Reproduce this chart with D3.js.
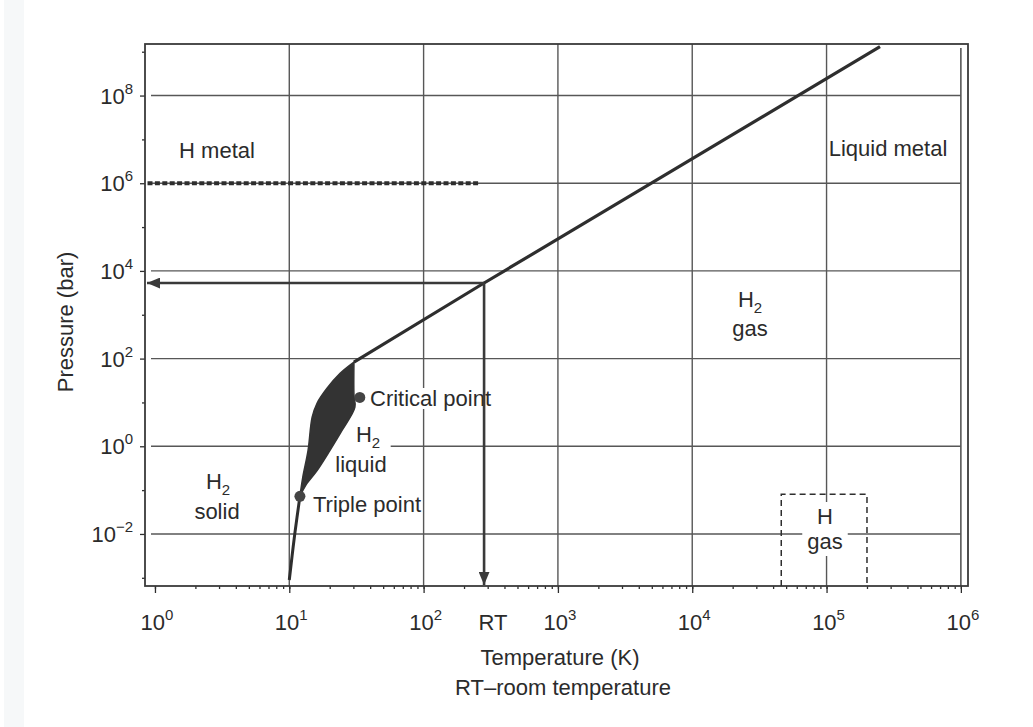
<!DOCTYPE html>
<html>
<head>
<meta charset="utf-8">
<script src="https://cdn.jsdelivr.net/npm/d3@7"></script>
<style>
  body { margin: 0; background: #fff; }
  text { font-family: "Liberation Sans", Arial, sans-serif; fill: #2b2b2b; }
</style>
</head>
<body>
<div id="chart"></div>
<script>
// Hydrogen phase diagram (log T vs log P)
const tRange = [0.843, 1.13e6];
const pRange = [6.5e-4, 1.5e9];
const xTicks = [1, 10, 100, 1000, 1e4, 1e5, 1e6];
const xTickExp = ["0", "1", "2", "3", "4", "5", "6"];
const yTicks = [1e-2, 1, 1e2, 1e4, 1e6, 1e8];
const yTickExp = ["\u22122", "0", "2", "4", "6", "8"];
const yMinorTicks = [1e-3, 1e-1, 1e1, 1e3, 1e5, 1e7, 1e9];

// [T (K), P (bar)]
const sublimationCurve = [[10, 8.9e-4], [10.5, 0.0032], [11, 0.0103], [12, 0.072]];
const meltingCurve = [[12, 0.072], [12.6, 0.196], [13.8, 0.81], [14.8, 4.6], [16.1, 9.6],
  [19.1, 21], [23.9, 46], [30.3, 83]];
const vaporCurve = [[30.3, 83], [30.3, 15], [30.8, 7.8], [24.7, 2.3], [20.1, 0.81],
  [16.1, 0.28], [13.5, 0.14], [12, 0.072]];
const boilingLine = [[30.3, 83], [282, 5300], [2.5e5, 1.3e9]];
const triplePoint = [12, 0.072];
const criticalPoint = [33.5, 13];
const roomTemp = [282, 5300];
const metalLine = [[0.88, 1e6], [265, 1e6]];
const hGasBox = [[4.6e4, 6.5e-4], [4.6e4, 0.08], [2.0e5, 0.08], [2.0e5, 6.5e-4]];

const margin = { top: 44, right: 65, bottom: 141, left: 145 };
const W = 1033, H = 727;
const width = W - margin.left - margin.right;
const height = H - margin.top - margin.bottom;

const svg = d3.select("#chart").append("svg")
  .attr("width", W).attr("height", H);

// faint scan edge on the left
svg.append("rect").attr("x", 4).attr("y", 0).attr("width", 20).attr("height", H)
  .attr("fill", "#f6f8f9");

const g = svg.append("g").attr("transform", `translate(${margin.left},${margin.top})`);

const x = d3.scaleLog().domain(tRange).range([0, width]);
const y = d3.scaleLog().domain(pRange).range([height, 0]);

const gridColor = "#575757";
const inkColor = "#2e2e2e";

// grid
g.selectAll("line.vgrid")
  .data(xTicks.slice(1, 6))
  .join("line")
  .attr("x1", d => x(d)).attr("x2", d => x(d))
  .attr("y1", 0).attr("y2", height)
  .attr("stroke", gridColor).attr("stroke-width", 1.4);

g.append("line")
  .attr("x1", x(1e6)).attr("x2", x(1e6))
  .attr("y1", 4).attr("y2", height)
  .attr("stroke", gridColor).attr("stroke-width", 1.6);

g.selectAll("line.hgrid")
  .data(yTicks)
  .join("line")
  .attr("x1", 6).attr("x2", x(1e6))
  .attr("y1", d => y(d)).attr("y2", d => y(d))
  .attr("stroke", gridColor).attr("stroke-width", 1.4);

// axes
const xMinor = g.append("g")
  .attr("transform", `translate(0,${height})`)
  .call(d3.axisBottom(x).tickValues(x.ticks().filter(d => d >= 1 && d <= 1e6)).tickSize(3).tickFormat(""));
const xMajor = g.append("g")
  .attr("transform", `translate(0,${height})`)
  .call(d3.axisBottom(x).tickValues(xTicks).tickSize(7).tickFormat(""));
const yMinor = g.append("g")
  .call(d3.axisLeft(y).tickValues(yMinorTicks).tickSize(3).tickFormat(""));
const yMajor = g.append("g")
  .call(d3.axisLeft(y).tickValues(yTicks).tickSize(5).tickFormat(""));
[xMinor, xMajor, yMinor, yMajor].forEach(a => {
  a.select(".domain").remove();
  a.selectAll(".tick line").attr("stroke", inkColor).attr("stroke-width", 1.3);
});

// frame
g.append("rect")
  .attr("x", 0).attr("y", 0).attr("width", width).attr("height", height)
  .attr("fill", "none").attr("stroke", "#3a3a3a").attr("stroke-width", 1.8);

// tick labels
const xl = g.selectAll("text.xlab")
  .data(xTicks)
  .join("text")
  .attr("class", "xlab")
  .attr("x", d => x(d) + 2)
  .attr("y", height + 44)
  .attr("text-anchor", "middle")
  .attr("font-size", 22);
xl.append("tspan").text("10");
xl.append("tspan").attr("dy", -10).attr("font-size", 15).text((d, i) => xTickExp[i]);

const yl = g.selectAll("text.ylab")
  .data(yTicks)
  .join("text")
  .attr("class", "ylab")
  .attr("x", -12)
  .attr("y", d => y(d) + 8)
  .attr("text-anchor", "end")
  .attr("font-size", 22);
yl.append("tspan").text("10");
yl.append("tspan").attr("dy", -10).attr("font-size", 15).text((d, i) => yTickExp[i]);

g.append("text")
  .attr("x", x(roomTemp[0]) + 9).attr("y", height + 44)
  .attr("text-anchor", "middle").attr("font-size", 22).text("RT");

// H metal dotted boundary
const line = d3.line().x(d => x(d[0])).y(d => y(d[1]));
g.append("path")
  .attr("d", line(metalLine))
  .attr("fill", "none").attr("stroke", inkColor)
  .attr("stroke-width", 4).attr("stroke-dasharray", "5,2.4");

// H gas dashed box
g.append("path")
  .attr("d", line(hGasBox))
  .attr("fill", "none").attr("stroke", inkColor)
  .attr("stroke-width", 1.5).attr("stroke-dasharray", "6,4");

// liquid region
const smooth = d3.line().x(d => x(d[0])).y(d => y(d[1])).curve(d3.curveCatmullRom.alpha(0.5));
const liquidPath = smooth(meltingCurve) + smooth(vaporCurve).replace(/^M/, "L") + "Z";

// region labels: each is a list of lines, optionally with a white patch behind
function label(lines, opts = {}) {
  const grp = svg.append("g");
  lines.forEach(l => {
    const t = grp.append("text")
      .attr("x", l.x).attr("y", l.y)
      .attr("text-anchor", opts.anchor || "middle")
      .attr("font-size", 22);
    l.parts.forEach(p => {
      const s = t.append("tspan").text(p.text);
      if (p.sub) s.attr("font-size", 15).attr("dy", 6);
    });
  });
  if (opts.bg) {
    const b = grp.node().getBBox();
    const padX = opts.padX || 0, padY = opts.padY || 0;
    grp.insert("rect", ":first-child")
      .attr("x", b.x - padX).attr("y", b.y - padY)
      .attr("width", b.width + 2 * padX).attr("height", b.height + 2 * padY)
      .attr("fill", "#fff");
  }
}

label([{ x: 217, y: 158, parts: [{ text: "H metal" }] }]);
label([{ x: 888, y: 156, parts: [{ text: "Liquid metal" }] }]);
label([{ x: 750, y: 307, parts: [{ text: "H" }, { text: "2", sub: true }] },
  { x: 750, y: 336, parts: [{ text: "gas" }] }]);
label([{ x: 218, y: 489, parts: [{ text: "H" }, { text: "2", sub: true }] },
  { x: 217, y: 519, parts: [{ text: "solid" }] }]);
label([{ x: 368, y: 442, parts: [{ text: "H" }, { text: "2", sub: true }] },
  { x: 361, y: 472, parts: [{ text: "liquid" }] }], { bg: true, padX: 4, padY: -3 });
label([{ x: 370, y: 406, parts: [{ text: "Critical point" }] }], { anchor: "start", bg: true, padX: 2, padY: -2 });
label([{ x: 313, y: 512, parts: [{ text: "Triple point" }] }], { anchor: "start" });
label([{ x: 825, y: 524, parts: [{ text: "H" }] },
  { x: 825, y: 549, parts: [{ text: "gas" }] }], { bg: true, padX: 5, padY: 2 });

// liquid fill and curves drawn over label backgrounds
const marks = svg.append("g").attr("transform", `translate(${margin.left},${margin.top})`);
marks.append("path")
  .attr("d", liquidPath)
  .attr("fill", "#333").attr("stroke", "#333").attr("stroke-width", 1.5);

marks.append("path")
  .attr("d", smooth(sublimationCurve))
  .attr("fill", "none").attr("stroke", inkColor).attr("stroke-width", 3);

marks.append("path")
  .attr("d", line(boilingLine))
  .attr("fill", "none").attr("stroke", inkColor).attr("stroke-width", 3.2);

marks.selectAll("circle.pt")
  .data([triplePoint, criticalPoint])
  .join("circle")
  .attr("cx", d => x(d[0])).attr("cy", d => y(d[1])).attr("r", 5.5)
  .attr("fill", "#444");

// room temperature arrows
svg.append("defs").append("marker")
  .attr("id", "arrow").attr("viewBox", "0 0 12 10")
  .attr("refX", 12).attr("refY", 5)
  .attr("markerWidth", 13).attr("markerHeight", 11)
  .attr("markerUnits", "userSpaceOnUse")
  .attr("orient", "auto")
  .append("path").attr("d", "M0,0L12,5L0,10Z").attr("fill", "#3a3a3a");

marks.append("line")
  .attr("x1", x(roomTemp[0])).attr("y1", y(roomTemp[1]))
  .attr("x2", 2).attr("y2", y(roomTemp[1]))
  .attr("stroke", "#3a3a3a").attr("stroke-width", 2.6)
  .attr("marker-end", "url(#arrow)");
marks.append("line")
  .attr("x1", x(roomTemp[0])).attr("y1", y(roomTemp[1]))
  .attr("x2", x(roomTemp[0])).attr("y2", height - 1)
  .attr("stroke", "#3a3a3a").attr("stroke-width", 2.6)
  .attr("marker-end", "url(#arrow)");

// axis titles
svg.append("text")
  .attr("transform", "translate(73,322) rotate(-90)")
  .attr("text-anchor", "middle").attr("font-size", 22)
  .text("Pressure (bar)");
svg.append("text")
  .attr("x", 560).attr("y", 665)
  .attr("text-anchor", "middle").attr("font-size", 22)
  .text("Temperature (K)");
svg.append("text")
  .attr("x", 563).attr("y", 695)
  .attr("text-anchor", "middle").attr("font-size", 22)
  .text("RT\u2013room temperature");
</script>
</body>
</html>
